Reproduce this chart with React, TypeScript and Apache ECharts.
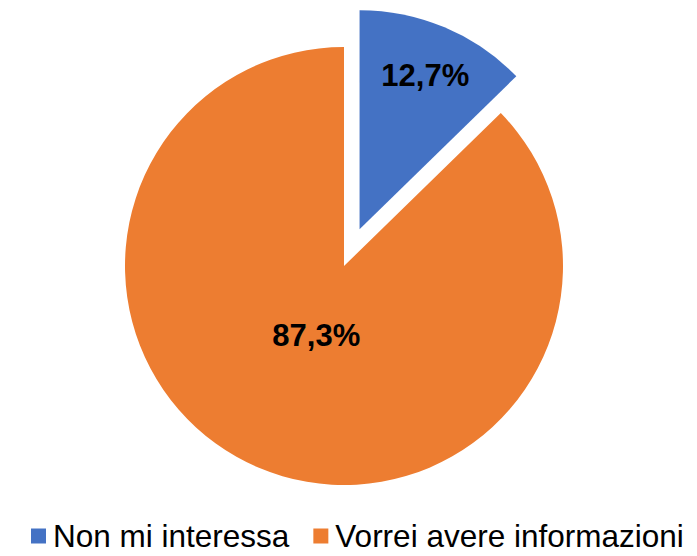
import React, { useEffect, useRef } from "react";
import * as echarts from "echarts";

const categories = ["Non mi interessa", "Vorrei avere informazioni"];
const values = [12.7, 87.3];
const labels = ["12,7%", "87,3%"];
const colors = ["#4472C4", "#ED7D31"];
const labelShift = [
  { dx: 22, dy: -50 },
  { dx: 16, dy: -34 },
];

export default function App() {
  const ref = useRef<HTMLDivElement>(null);
  useEffect(() => {
    if (!ref.current) return;
    const chart = echarts.init(ref.current, undefined, { renderer: "svg" });
    chart.setOption({
      animation: false,
      color: colors,
      textStyle: { fontFamily: "Liberation Sans, Arial, sans-serif" },
      legend: {
        data: categories,
        left: 31,
        top: 520,
        padding: 0,
        icon: "rect",
        itemWidth: 15,
        itemHeight: 15,
        itemGap: 24,
        selectedMode: false,
        textStyle: {
          fontSize: 31.5,
          lineHeight: 31,
          color: "#000",
          padding: [0, 0, 0, 2],
          fontFamily: "Liberation Sans, Arial, sans-serif",
        },
      },
      series: [
        {
          type: "pie",
          center: [344, 266],
          radius: 219,
          startAngle: 90,
          clockwise: true,
          selectedMode: "single",
          selectedOffset: 40,
          avoidLabelOverlap: false,
          emphasis: { disabled: true },
          select: { itemStyle: {} },
          label: {
            show: true,
            position: "inside",
            fontSize: 31,
            fontWeight: "bold",
            color: "#000",
            fontFamily: "Liberation Sans, Arial, sans-serif",
            formatter: (p: any) => labels[p.dataIndex],
          },
          labelLine: { show: false },
          labelLayout: (p: any) => labelShift[p.dataIndex],
          data: categories.map((name, i) => ({
            name,
            value: values[i],
            selected: i === 0,
          })),
        },
      ],
    });
    return () => chart.dispose();
  }, []);
  return (
    <div
      ref={ref}
      style={{ position: "absolute", left: 0, top: 0, width: 697, height: 556 }}
    />
  );
}
